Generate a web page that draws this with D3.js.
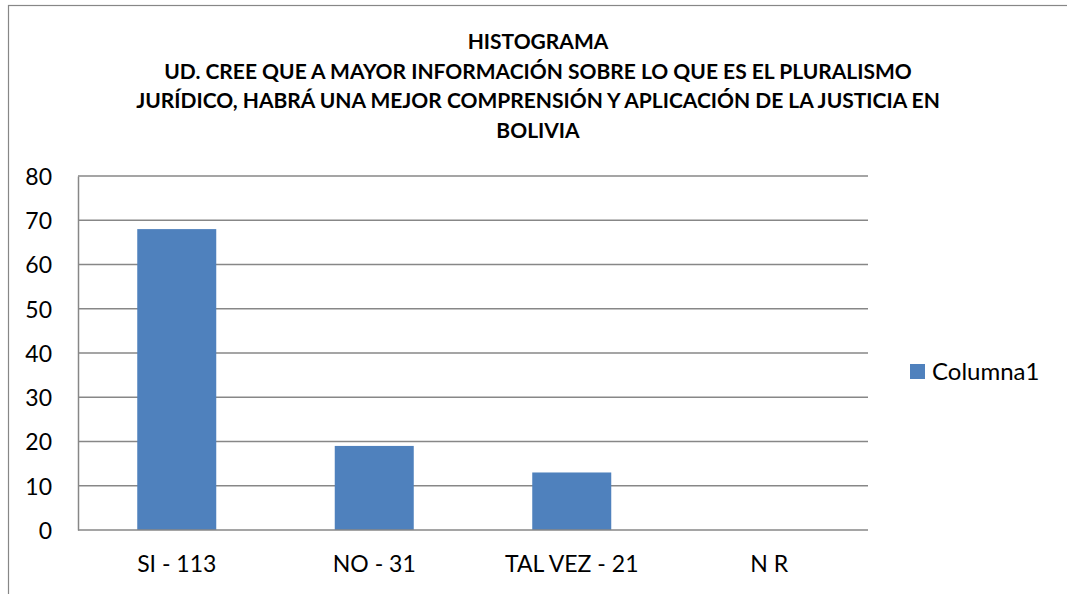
<!DOCTYPE html>
<html><head><meta charset="utf-8">
<script src="https://cdn.jsdelivr.net/npm/d3@7"></script>
<style>html,body{margin:0;padding:0;background:#fff;overflow:hidden}</style>
</head><body>
<svg id="chart" width="1067" height="594"></svg>
<script>
const categories = ["SI - 113", "NO - 31", "TAL VEZ - 21", "N R"];
const values = [68, 19, 13, 0];
const yTicks = [0, 10, 20, 30, 40, 50, 60, 70, 80];
const seriesName = "Columna1";
const titleLines = [
  "HISTOGRAMA",
  "UD. CREE QUE A MAYOR INFORMACIÓN SOBRE LO QUE ES EL PLURALISMO",
  "JURÍDICO, HABRÁ UNA MEJOR COMPRENSIÓN Y APLICACIÓN DE LA JUSTICIA EN",
  "BOLIVIA"
];

const svg = d3.select("#chart");
const font = "Lato, 'Open Sans', sans-serif";
const grid = "#878787";
const barColor = "#4F81BD";
const labelSize = 23;

// chart border
svg.append("rect").attr("x", 8.5).attr("y", 5.5).attr("width", 1100).attr("height", 620)
  .attr("fill", "#fff").attr("stroke", grid).attr("stroke-width", 1.2);

const plot = {left: 78, right: 868, top: 176, bottom: 530};
const x = d3.scaleBand().domain(categories).range([plot.left, plot.right]).paddingInner(0.6).paddingOuter(0.3);
const y = d3.scaleLinear().domain([0, 80]).range([plot.bottom, plot.top]);

// gridlines
svg.append("g").selectAll("line").data(yTicks.filter(d => d > 0)).join("line")
  .attr("x1", plot.left).attr("x2", plot.right)
  .attr("y1", d => y(d)).attr("y2", d => y(d))
  .attr("stroke", grid).attr("stroke-width", 1.5);

// bars
svg.append("g").selectAll("rect").data(values).join("rect")
  .attr("x", (d, i) => x(categories[i]))
  .attr("width", x.bandwidth())
  .attr("y", d => y(d))
  .attr("height", d => y(0) - y(d))
  .attr("fill", barColor);

// axes
const yAxis = d3.axisLeft(y).tickValues(yTicks).tickSize(0).tickPadding(26);
const gy = svg.append("g").attr("transform", `translate(${plot.left},0)`).call(yAxis);
gy.select(".domain").attr("stroke", grid).attr("stroke-width", 1.5);
gy.selectAll("text").attr("font-family", font).attr("font-size", labelSize).attr("fill", "#000").attr("dy", "0.36em");

const xAxis = d3.axisBottom(x).tickSize(0).tickPadding(26);
const gx = svg.append("g").attr("transform", `translate(0,${plot.bottom})`).call(xAxis);
gx.select(".domain").attr("stroke", grid).attr("stroke-width", 1.5).attr("d", `M${plot.left},0H${plot.right}`);
gx.selectAll("text").attr("font-family", font).attr("font-size", labelSize).attr("fill", "#000").attr("dy", "0.71em");

// title
const tl = svg.append("g").selectAll("text").data(titleLines).join("text")
  .attr("x", 538).attr("y", (d, i) => 49 + i * 29.6)
  .attr("text-anchor", "middle").attr("font-family", font).attr("font-weight", "bold")
  .attr("font-size", 20).attr("fill", "#000").text(d => d);
const w3 = tl.filter((d, i) => i === 2).node().getComputedTextLength();
tl.attr("font-size", 20 * 804 / w3);

// legend
const lg = svg.append("g");
lg.append("rect").attr("x", 910).attr("y", 364).attr("width", 15).attr("height", 15).attr("fill", barColor);
lg.append("text").attr("x", 932).attr("y", 379.5).attr("font-family", font).attr("font-size", labelSize + 1)
  .attr("fill", "#000").text(seriesName);
</script>
</body></html>
